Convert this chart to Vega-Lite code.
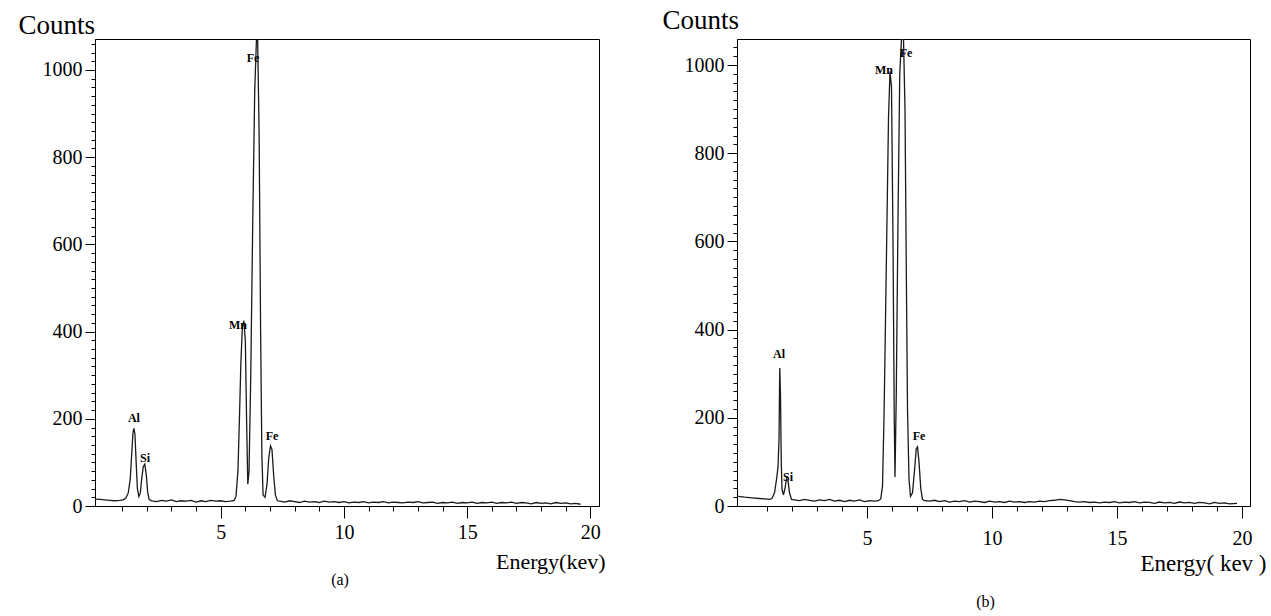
{
  "$schema": "https://vega.github.io/schema/vega-lite/v6.json",
  "padding": {"left": 17, "top": 5, "right": 5, "bottom": 5},
  "background": "white",
  "config": {
    "view": {"stroke": "black", "strokeWidth": 1},
    "font": "Liberation Serif",
    "axis": {"domainColor": "black", "tickColor": "black", "labelColor": "black", "titleColor": "black", "labelFont": "Liberation Serif", "titleFont": "Liberation Serif", "labelFontSize": 20, "titleFontWeight": "normal", "grid": false, "domainWidth": 1, "tickWidth": 1, "tickCount": 200},
    "title": {"font": "Liberation Serif", "fontWeight": "normal", "fontSize": 16, "color": "black"}
  },
  "datasets": {
    "specA": [
      {"e":-0.1,"c":16},{"e":0.1,"c":15},{"e":0.3,"c":14},{"e":0.5,"c":13},{"e":0.7,"c":12},{"e":0.9,"c":13},{"e":1.05,"c":14},{"e":1.15,"c":18},{"e":1.25,"c":30},{"e":1.33,"c":62},{"e":1.39,"c":120},{"e":1.44,"c":168},{"e":1.48,"c":178},{"e":1.52,"c":165},{"e":1.57,"c":100},{"e":1.62,"c":40},{"e":1.68,"c":22},{"e":1.74,"c":30},{"e":1.8,"c":65},{"e":1.86,"c":90},{"e":1.92,"c":96},{"e":1.98,"c":72},{"e":2.04,"c":30},{"e":2.1,"c":15},
      {"e":2.2,"c":12},{"e":2.4,"c":10},{"e":2.6,"c":13},{"e":2.8,"c":11},{"e":3.0,"c":14},{"e":3.2,"c":10},{"e":3.4,"c":12},{"e":3.6,"c":11},{"e":3.8,"c":13},{"e":4.0,"c":9},{"e":4.2,"c":12},{"e":4.4,"c":10},{"e":4.6,"c":13},{"e":4.8,"c":11},{"e":5.0,"c":12},{"e":5.2,"c":10},{"e":5.4,"c":11},
      {"e":5.55,"c":13},{"e":5.62,"c":22},{"e":5.7,"c":80},{"e":5.76,"c":200},{"e":5.82,"c":330},{"e":5.88,"c":410},{"e":5.94,"c":425},{"e":6.0,"c":380},{"e":6.05,"c":200},{"e":6.1,"c":50},{"e":6.15,"c":80},{"e":6.22,"c":300},{"e":6.3,"c":650},{"e":6.38,"c":950},{"e":6.45,"c":1068},{"e":6.5,"c":1068},{"e":6.56,"c":850},{"e":6.62,"c":400},{"e":6.67,"c":120},{"e":6.72,"c":25},{"e":6.8,"c":20},{"e":6.88,"c":50},{"e":6.95,"c":110},{"e":7.02,"c":138},{"e":7.08,"c":130},{"e":7.15,"c":70},{"e":7.22,"c":25},{"e":7.3,"c":12},
      {"e":7.4,"c":11},{"e":7.6,"c":9},{"e":7.8,"c":12},{"e":8.0,"c":10},{"e":8.2,"c":8},{"e":8.4,"c":11},{"e":8.6,"c":9},{"e":8.8,"c":10},{"e":9.0,"c":8},{"e":9.2,"c":11},{"e":9.4,"c":9},{"e":9.6,"c":10},{"e":9.8,"c":8},{"e":10.0,"c":10},{"e":10.2,"c":7},{"e":10.4,"c":9},{"e":10.6,"c":8},{"e":10.8,"c":10},{"e":11.0,"c":7},{"e":11.2,"c":9},{"e":11.4,"c":8},{"e":11.6,"c":10},{"e":11.8,"c":7},{"e":12.0,"c":9},{"e":12.2,"c":8},{"e":12.4,"c":7},{"e":12.6,"c":9},{"e":12.8,"c":8},{"e":13.0,"c":10},{"e":13.2,"c":7},{"e":13.4,"c":8},{"e":13.6,"c":9},{"e":13.8,"c":6},{"e":14.0,"c":8},{"e":14.2,"c":7},{"e":14.4,"c":9},{"e":14.6,"c":6},{"e":14.8,"c":8},{"e":15.0,"c":7},{"e":15.2,"c":9},{"e":15.4,"c":6},{"e":15.6,"c":8},{"e":15.8,"c":7},{"e":16.0,"c":9},{"e":16.2,"c":6},{"e":16.4,"c":8},{"e":16.6,"c":7},{"e":16.8,"c":9},{"e":17.0,"c":6},{"e":17.2,"c":8},{"e":17.4,"c":7},{"e":17.6,"c":5},{"e":17.8,"c":8},{"e":18.0,"c":6},{"e":18.2,"c":7},{"e":18.4,"c":5},{"e":18.6,"c":8},{"e":18.8,"c":6},{"e":19.0,"c":7},{"e":19.2,"c":5},{"e":19.4,"c":6},{"e":19.6,"c":4}
    ],
    "specB": [
      {"e":-0.15,"c":22},{"e":0.1,"c":20},{"e":0.3,"c":19},{"e":0.5,"c":18},{"e":0.7,"c":17},{"e":0.9,"c":16},{"e":1.1,"c":15},{"e":1.2,"c":17},{"e":1.3,"c":30},{"e":1.38,"c":60},{"e":1.44,"c":88},{"e":1.48,"c":150},{"e":1.51,"c":313},{"e":1.54,"c":250},{"e":1.57,"c":100},{"e":1.6,"c":38},{"e":1.66,"c":25},{"e":1.72,"c":40},{"e":1.78,"c":62},{"e":1.84,"c":58},{"e":1.9,"c":30},{"e":1.98,"c":15},
      {"e":2.1,"c":14},{"e":2.3,"c":12},{"e":2.5,"c":15},{"e":2.7,"c":13},{"e":2.9,"c":11},{"e":3.1,"c":14},{"e":3.3,"c":12},{"e":3.5,"c":15},{"e":3.7,"c":11},{"e":3.9,"c":13},{"e":4.1,"c":10},{"e":4.3,"c":13},{"e":4.5,"c":11},{"e":4.7,"c":14},{"e":4.9,"c":10},{"e":5.1,"c":12},{"e":5.3,"c":11},{"e":5.45,"c":12},
      {"e":5.55,"c":16},{"e":5.62,"c":45},{"e":5.68,"c":200},{"e":5.74,"c":420},{"e":5.8,"c":650},{"e":5.86,"c":880},{"e":5.92,"c":985},{"e":5.98,"c":950},{"e":6.04,"c":600},{"e":6.09,"c":200},{"e":6.12,"c":66},{"e":6.17,"c":250},{"e":6.24,"c":650},{"e":6.31,"c":980},{"e":6.38,"c":1059},{"e":6.46,"c":1059},{"e":6.52,"c":900},{"e":6.57,"c":550},{"e":6.62,"c":220},{"e":6.68,"c":60},{"e":6.74,"c":22},{"e":6.82,"c":30},{"e":6.9,"c":80},{"e":6.97,"c":130},{"e":7.02,"c":134},{"e":7.08,"c":100},{"e":7.15,"c":40},{"e":7.22,"c":15},{"e":7.3,"c":12},
      {"e":7.5,"c":11},{"e":7.7,"c":13},{"e":7.9,"c":10},{"e":8.1,"c":12},{"e":8.3,"c":9},{"e":8.5,"c":11},{"e":8.7,"c":10},{"e":8.9,"c":12},{"e":9.1,"c":9},{"e":9.3,"c":11},{"e":9.5,"c":10},{"e":9.7,"c":8},{"e":9.9,"c":11},{"e":10.1,"c":9},{"e":10.3,"c":10},{"e":10.5,"c":8},{"e":10.7,"c":11},{"e":10.9,"c":9},{"e":11.1,"c":10},{"e":11.3,"c":8},{"e":11.5,"c":10},{"e":11.7,"c":9},{"e":11.9,"c":11},{"e":12.1,"c":10},{"e":12.3,"c":12},{"e":12.5,"c":13},{"e":12.7,"c":15},{"e":12.9,"c":14},{"e":13.1,"c":12},{"e":13.3,"c":10},{"e":13.5,"c":9},{"e":13.7,"c":10},{"e":13.9,"c":8},{"e":14.1,"c":9},{"e":14.3,"c":7},{"e":14.5,"c":9},{"e":14.7,"c":8},{"e":14.9,"c":10},{"e":15.1,"c":7},{"e":15.3,"c":9},{"e":15.5,"c":8},{"e":15.7,"c":10},{"e":15.9,"c":7},{"e":16.1,"c":9},{"e":16.3,"c":8},{"e":16.5,"c":6},{"e":16.7,"c":9},{"e":16.9,"c":7},{"e":17.1,"c":8},{"e":17.3,"c":6},{"e":17.5,"c":9},{"e":17.7,"c":7},{"e":17.9,"c":8},{"e":18.1,"c":6},{"e":18.3,"c":8},{"e":18.5,"c":7},{"e":18.7,"c":5},{"e":18.9,"c":8},{"e":19.1,"c":6},{"e":19.3,"c":7},{"e":19.5,"c":5},{"e":19.8,"c":6}
    ],
    "labA": [
      {"t":"Fe","e":6.31,"c":1028},{"t":"Mn","e":5.7,"c":415},{"t":"Al","e":1.48,"c":202},{"t":"Si","e":1.93,"c":110},{"t":"Fe","e":7.08,"c":161}
    ],
    "labB": [
      {"t":"Fe","e":6.56,"c":1027},{"t":"Mn","e":5.68,"c":989},{"t":"Al","e":1.48,"c":345},{"t":"Si","e":1.84,"c":66},{"t":"Fe","e":7.08,"c":159}
    ]
  },
  "spacing": 55,
  "hconcat": [
    {
      "width": 504,
      "height": 467,
      "title": {"text": "(a)", "orient": "bottom", "anchor": "middle", "offset": 0, "dx": -7},
      "layer": [
        {
          "data": {"name": "specA"},
          "mark": {"type": "line", "color": "#1a1a1a", "strokeWidth": 1.3, "clip": true},
          "encoding": {
            "x": {"field": "e", "type": "quantitative", "scale": {"domain": [-0.1, 20.35], "nice": false, "zero": false},
              "axis": {"values": [1,2,3,4,5,6,7,8,9,10,11,12,13,14,15,16,17,18,19,20], "tickCount": 200, "format": "d", "labelExpr": "datum.value % 5 === 0 ? datum.label : ''", "tickSize": {"condition": {"test": "datum.value % 5 === 0", "value": 12}, "value": 5}, "labelPadding": 4, "labelFlush": false, "labelOverlap": false, "title": "Energy(kev)", "titleFontSize": 22, "titleAnchor": "end", "titleAlign": "right", "titleX": 510, "titleY": 62, "titleBaseline": "alphabetic"}},
            "y": {"field": "c", "type": "quantitative", "scale": {"domain": [0, 1071], "nice": false},
              "axis": {"values": [0,20,40,60,80,100,120,140,160,180,200,220,240,260,280,300,320,340,360,380,400,420,440,460,480,500,520,540,560,580,600,620,640,660,680,700,720,740,760,780,800,820,840,860,880,900,920,940,960,980,1000,1020,1040,1060], "tickCount": 200, "format": "d", "labelExpr": "datum.value % 200 === 0 ? datum.label : ''", "tickSize": {"condition": {"test": "datum.value % 200 === 0", "value": 10}, "value": 4}, "labelPadding": 3, "labelFlush": false, "labelOverlap": false, "title": "Counts", "titleFontSize": 27, "titleAngle": 0, "titleAlign": "left", "titleBaseline": "middle", "titleX": -77, "titleY": -14}}
          }
        },
        {
          "data": {"name": "labA"},
          "mark": {"type": "text", "fontWeight": "bold", "fontSize": 12, "font": "Liberation Serif", "color": "black"},
          "encoding": {
            "x": {"field": "e", "type": "quantitative"},
            "y": {"field": "c", "type": "quantitative"},
            "text": {"field": "t"}
          }
        }
      ]
    },
    {
      "width": 513,
      "height": 467,
      "title": {"text": "(b)", "orient": "bottom", "anchor": "middle", "offset": 19, "dx": -8},
      "layer": [
        {
          "data": {"name": "specB"},
          "mark": {"type": "line", "color": "#1a1a1a", "strokeWidth": 1.3, "clip": true},
          "encoding": {
            "x": {"field": "e", "type": "quantitative", "scale": {"domain": [-0.2, 20.32], "nice": false, "zero": false},
              "axis": {"values": [1,2,3,4,5,6,7,8,9,10,11,12,13,14,15,16,17,18,19,20], "tickCount": 200, "format": "d", "labelExpr": "datum.value % 5 === 0 ? datum.label : ''", "tickSize": {"condition": {"test": "datum.value % 5 === 0", "value": 12}, "value": 5}, "labelPadding": 10, "labelFlush": false, "labelOverlap": false, "title": "Energy( kev )", "titleFontSize": 23, "titleAnchor": "end", "titleAlign": "right", "titleX": 529, "titleY": 64, "titleBaseline": "alphabetic"}},
            "y": {"field": "c", "type": "quantitative", "scale": {"domain": [0, 1059], "nice": false},
              "axis": {"values": [0,20,40,60,80,100,120,140,160,180,200,220,240,260,280,300,320,340,360,380,400,420,440,460,480,500,520,540,560,580,600,620,640,660,680,700,720,740,760,780,800,820,840,860,880,900,920,940,960,980,1000,1020,1040], "tickCount": 200, "format": "d", "labelExpr": "datum.value % 200 === 0 ? datum.label : ''", "tickSize": {"condition": {"test": "datum.value % 200 === 0", "value": 10}, "value": 4}, "labelPadding": 3, "labelFlush": false, "labelOverlap": false, "title": "Counts", "titleFontSize": 27, "titleAngle": 0, "titleAlign": "left", "titleBaseline": "middle", "titleX": -75, "titleY": -19}}
          }
        },
        {
          "data": {"name": "labB"},
          "mark": {"type": "text", "fontWeight": "bold", "fontSize": 12, "font": "Liberation Serif", "color": "black"},
          "encoding": {
            "x": {"field": "e", "type": "quantitative"},
            "y": {"field": "c", "type": "quantitative"},
            "text": {"field": "t"}
          }
        }
      ]
    }
  ]
}
